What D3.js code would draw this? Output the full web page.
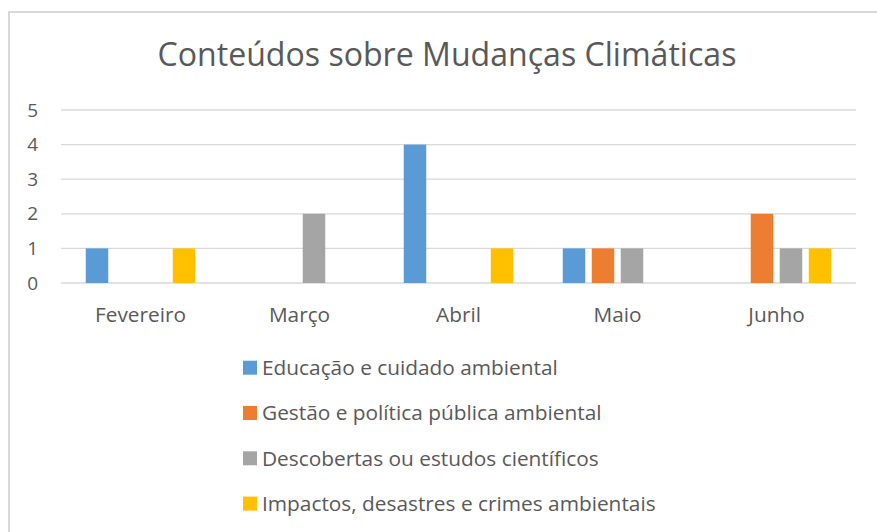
<!DOCTYPE html>
<html>
<head>
<meta charset="utf-8">
<script src="https://cdn.jsdelivr.net/npm/d3@7"></script>
<style>
  html, body { margin: 0; padding: 0; background: #fff; }
  svg { display: block; }
  text { font-family: "Open Sans", "Noto Sans", sans-serif; fill: #595959; }
</style>
</head>
<body>
<svg id="chart" width="877" height="532"></svg>
<script>
const title = "Conteúdos sobre Mudanças Climáticas";
const categories = ["Fevereiro", "Março", "Abril", "Maio", "Junho"];
const seriesNames = [
  "Educação e cuidado ambiental",
  "Gestão e política pública ambiental",
  "Descobertas ou estudos científicos",
  "Impactos, desastres e crimes ambientais"
];
const educacao    = [1, 0, 4, 1, 0];
const gestao      = [0, 0, 0, 1, 2];
const descobertas = [0, 2, 0, 1, 1];
const impactos    = [1, 0, 1, 0, 1];
const yTicks = [0, 1, 2, 3, 4, 5];
const colors = ["#5b9bd5", "#ed7d31", "#a5a5a5", "#ffc000"];

const seriesValues = [educacao, gestao, descobertas, impactos];

const svg = d3.select("#chart");

// chart frame (only top/left visible in the crop)
svg.append("rect")
  .attr("x", 9).attr("y", 12).attr("width", 1000).attr("height", 1000)
  .attr("fill", "none").attr("stroke", "#d9d9d9").attr("stroke-width", 2);

function fitWidth(sel, target) {
  const w = sel.node().getComputedTextLength();
  const fs = parseFloat(sel.attr("font-size"));
  sel.attr("font-size", fs * target / w);
}

// title
const t = svg.append("text")
  .attr("x", 447).attr("y", 66)
  .attr("text-anchor", "middle")
  .attr("font-size", 30)
  .text(title);
fitWidth(t, 579);

const plot = { left: 61, right: 856, top: 110, bottom: 283 };

const x0 = d3.scaleBand().domain(categories).range([plot.left, plot.right]).paddingInner(0).paddingOuter(0);
const x1 = d3.scaleBand().domain(d3.range(seriesNames.length)).range([0, x0.bandwidth()])
  .paddingInner(0.224).paddingOuter(0.853);
const y = d3.scaleLinear().domain([0, 5]).range([plot.bottom, plot.top]);

// gridlines
svg.append("g").selectAll("line").data(yTicks).join("line")
  .attr("x1", plot.left).attr("x2", plot.right)
  .attr("y1", d => y(d)).attr("y2", d => y(d))
  .attr("stroke", "#d9d9d9").attr("stroke-width", 1.3);

// y axis labels
const yAxis = d3.axisLeft(y).tickValues(yTicks).tickSize(0).tickPadding(0).tickFormat(d3.format("d"));
const gy = svg.append("g").attr("transform", "translate(38,0)").call(yAxis);
gy.select(".domain").remove();
gy.selectAll("text").attr("font-size", 19).attr("fill", "#595959")
  .style("font-family", '"Open Sans", "Noto Sans", sans-serif');

// bars
const groups = svg.append("g").selectAll("g").data(categories).join("g")
  .attr("transform", d => `translate(${x0(d)},0)`);
groups.selectAll("rect")
  .data((c, ci) => seriesValues.map((vals, si) => ({ si, v: vals[ci] })))
  .join("rect")
  .attr("x", d => x1(d.si))
  .attr("width", x1.bandwidth())
  .attr("y", d => y(d.v))
  .attr("height", d => y(0) - y(d.v))
  .attr("fill", d => colors[d.si]);

// x axis labels
const xAxis = d3.axisBottom(x0).tickSize(0).tickPadding(0);
const gx = svg.append("g").attr("transform", `translate(0,322)`).call(xAxis);
gx.select(".domain").remove();
gx.selectAll("text").attr("dy", 0).attr("font-size", 20).attr("fill", "#595959")
  .style("font-family", '"Open Sans", "Noto Sans", sans-serif');
{
  const first = gx.selectAll("text").filter(d => d === "Fevereiro");
  const w = first.node().getComputedTextLength();
  const fs = 20 * 91 / w;
  gx.selectAll("text").attr("font-size", fs);
}

// legend
const legend = svg.append("g").selectAll("g").data(seriesNames).join("g")
  .attr("transform", (d, i) => `translate(243,${367.7 + i * 45.3})`);
legend.append("rect")
  .attr("x", 0).attr("y", -7).attr("width", 14).attr("height", 14)
  .attr("fill", (d, i) => colors[i]);
const lt = legend.append("text")
  .attr("x", 19).attr("y", 7.3)
  .attr("font-size", 20)
  .text(d => d);
{
  const w = lt.nodes()[0].getComputedTextLength();
  lt.attr("font-size", 20 * 296 / w);
}
</script>
</body>
</html>
